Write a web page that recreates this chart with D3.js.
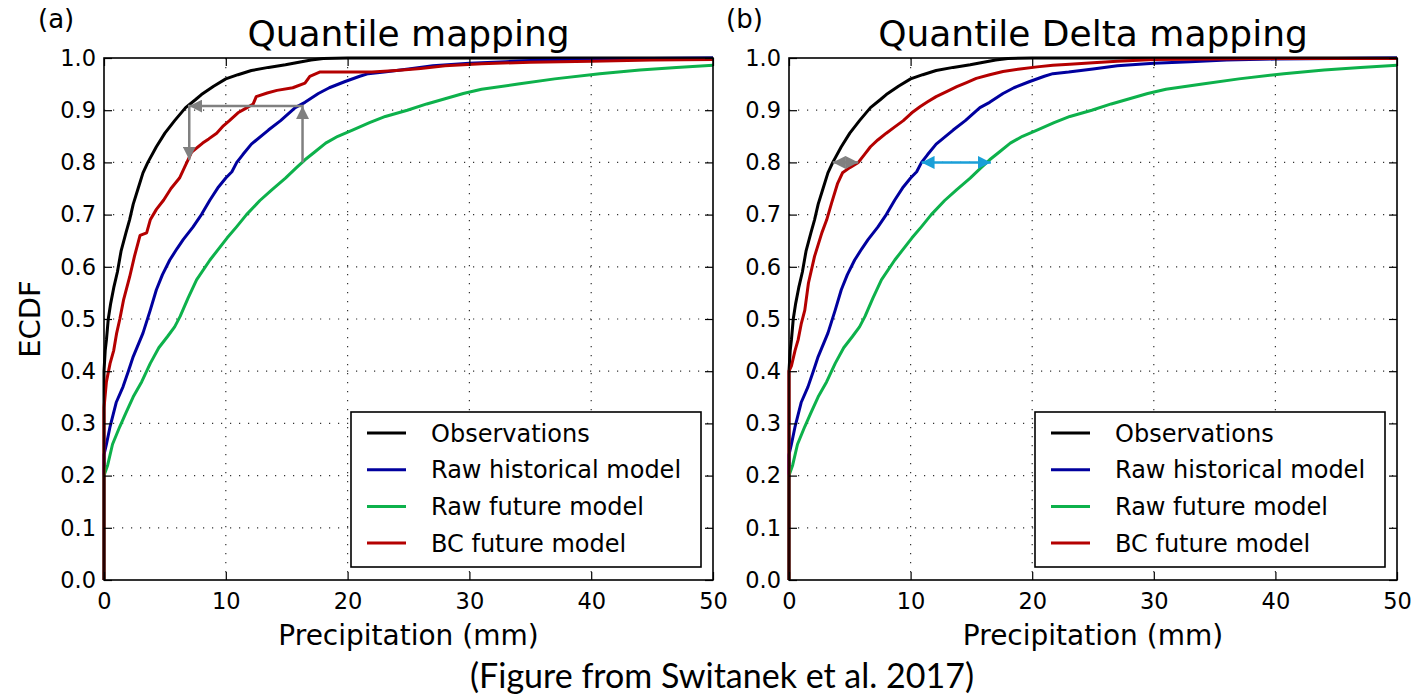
<!DOCTYPE html>
<meta charset="utf-8">
<style>
body { margin: 0; background: #fff; }
svg text { font-family: "DejaVu Sans", sans-serif; fill: #000; }
.grid line { stroke: #333; stroke-width: 1.2; stroke-dasharray: 1.2,7.8; }
.axis path { display: none; }
.axis line { stroke: #000; stroke-width: 1.2; }
.axis text { font-size: 22.5px; }
.curve { fill: none; stroke-width: 3px; stroke-linejoin: round; }
.frame { fill: none; stroke: #000; stroke-width: 1.6; }
</style>
<body>
<script src="https://d3js.org/d3.v7.min.js"></script>
<script>

// ---- data (precipitation in mm, ECDF) ----
var xTicks = [0, 10, 20, 30, 40, 50];
var yTicks = [0, 0.1, 0.2, 0.3, 0.4, 0.5, 0.6, 0.7, 0.8, 0.9, 1.0];
var seriesNames = ["Observations", "Raw historical model", "Raw future model", "BC future model"];

var observations = [[0,0],[0,0.40],[0.1,0.44],[0.2,0.46],[0.35,0.5],[0.55,0.53],[0.8,0.56],[1.1,0.59],
  [1.4,0.63],[1.8,0.665],[2.1,0.69],[2.4,0.72],[2.8,0.75],[3.2,0.78],[3.6,0.80],[4.3,0.83],[5.0,0.856],
  [5.8,0.88],[6.7,0.905],[7.5,0.92],[8.0,0.93],[9.0,0.946],[10.0,0.96],[11.0,0.968],[12.1,0.976],
  [13.5,0.982],[14.9,0.987],[16.0,0.992],[17.0,0.996],[18,0.999],[20,1.0],[50,1.0]];

var rawHistorical = [[0,0],[0,0.24],[0.2,0.26],[0.5,0.294],[1.0,0.34],[1.56,0.37],[2.0,0.40],[2.4,0.428],
  [3.2,0.473],[3.8,0.517],[4.3,0.556],[4.8,0.585],[5.4,0.613],[6.0,0.635],[6.5,0.652],[7.3,0.676],[8.0,0.70],
  [8.7,0.728],[9.4,0.753],[10.0,0.77],[10.5,0.782],[10.9,0.80],[11.4,0.815],[12.1,0.835],[13.5,0.862],
  [14.5,0.88],[15.7,0.905],[16.5,0.915],[17.6,0.932],[18.5,0.943],[19.8,0.955],[21.0,0.965],[21.7,0.97],
  [23,0.973],[25,0.979],[27,0.985],[30,0.99],[33,0.993],[36,0.996],[40,0.998],[45,0.999],[50,1.0]];

var rawFuture = [[0,0],[0,0.2],[0.3,0.22],[0.7,0.26],[1.3,0.294],[1.8,0.32],[2.4,0.351],[3.1,0.38],
  [3.8,0.415],[4.5,0.445],[5.2,0.466],[5.8,0.485],[6.25,0.505],[6.9,0.54],[7.6,0.575],[8.7,0.613],
  [10.1,0.655],[10.9,0.677],[11.7,0.70],[12.8,0.727],[13.8,0.748],[14.9,0.77],[15.8,0.79],[16.5,0.805],
  [17.3,0.82],[18.2,0.837],[19.2,0.85],[20.4,0.862],[21.8,0.876],[23.1,0.888],[24.9,0.90],[26.5,0.912],
  [28,0.922],[29.5,0.932],[31,0.94],[34,0.95],[37,0.96],[40.7,0.97],[44,0.977],[47,0.982],[50,0.986]];

// bias corrected future, quantile mapping (a)
var bcFutureQM = [[0,0],[0,0.33],[0.2,0.38],[0.5,0.415],[0.8,0.44],[1.04,0.473],[1.3,0.50],[1.6,0.536],
  [2.1,0.58],[2.5,0.62],[2.96,0.66],[3.5,0.665],[3.8,0.69],[4.3,0.71],[4.9,0.728],[5.5,0.75],[6.2,0.77],
  [6.6,0.79],[6.9,0.805],[7.2,0.82],[8.1,0.837],[8.6,0.845],[9.25,0.856],[9.8,0.87],[10.3,0.88],
  [11.0,0.895],[11.6,0.903],[12.25,0.912],[12.5,0.926],[13.4,0.933],[14.2,0.938],[15.5,0.943],
  [16.5,0.952],[16.9,0.965],[17.7,0.973],[22,0.973],[24,0.976],[26,0.98],[28,0.985],[31,0.989],
  [35,0.992],[40,0.994],[45,0.996],[50,0.997]];

// bias corrected future, quantile delta mapping (b)
var bcFutureQDM = [[0,0],[0,0.40],[0.2,0.41],[0.5,0.44],[0.75,0.46],[1.0,0.49],[1.3,0.517],[1.6,0.569],
  [2.1,0.62],[2.7,0.665],[3.1,0.69],[3.5,0.722],[4.0,0.76],[4.4,0.78],[5.0,0.79],[5.7,0.80],[6.2,0.815],
  [6.7,0.83],[7.3,0.843],[8.0,0.856],[8.7,0.868],[9.4,0.88],[10.1,0.895],[10.8,0.907],[11.4,0.916],
  [12.1,0.926],[13.0,0.936],[13.8,0.945],[14.6,0.953],[15.4,0.961],[16.5,0.968],[17.6,0.974],[19,0.979],
  [20.4,0.983],[21.7,0.986],[23.1,0.988],[25,0.991],[27,0.994],[30,0.997],[35,0.998],[40,0.999],[50,0.999]];

// annotation arrows (data coords)
var qmArrowPath = [[16.3,0.80],[16.3,0.908],[7.0,0.908],[7.0,0.805]];
var qdmArrowObs = [[3.6,0.80],[5.7,0.80]];
var qdmArrowModel = [[10.9,0.80],[16.6,0.80]];

var colors = ["#000000", "#00009e", "#0db14b", "#b40000"];

var svg = d3.select("body").append("svg")
    .attr("width", 1415)
    .attr("height", 695);

var defs = svg.append("defs");
function marker(id, color) {
  defs.append("marker")
      .attr("id", id)
      .attr("viewBox", "0 0 10 10")
      .attr("refX", 10).attr("refY", 5)
      .attr("markerUnits", "userSpaceOnUse")
      .attr("markerWidth", 13).attr("markerHeight", 13)
      .attr("orient", "auto-start-reverse")
    .append("path")
      .attr("d", "M0,0 L10,5 L0,10 Z")
      .attr("fill", color);
}
marker("headGray", "#808080");
marker("headBlue", "#1a9fd8");

function drawPanel(p) {
  var width = p.width, height = 522;
  var g = svg.append("g").attr("transform", "translate(" + p.left + ",58)");

  var x = d3.scaleLinear().domain([0, 50]).range([0, width]);
  var y = d3.scaleLinear().domain([0, 1]).range([height, 0]);

  // grid
  g.append("g").attr("class", "grid")
    .selectAll("line").data(yTicks.slice(1, -1)).enter().append("line")
      .attr("x1", 0).attr("x2", width)
      .attr("y1", function(d) { return y(d); })
      .attr("y2", function(d) { return y(d); });
  g.append("g").attr("class", "grid")
    .selectAll("line").data(xTicks.slice(1, -1)).enter().append("line")
      .attr("y1", 0).attr("y2", height)
      .attr("x1", function(d) { return x(d); })
      .attr("x2", function(d) { return x(d); });

  // curves
  var line = d3.line()
      .x(function(d) { return x(d[0]); })
      .y(function(d) { return y(d[1]); });
  var series = [observations, rawHistorical, rawFuture, p.bc];
  series.forEach(function(s, i) {
    g.append("path").attr("class", "curve")
      .attr("d", line(s))
      .attr("stroke", colors[i]);
  });

  // arrows
  p.arrows.forEach(function(a) {
    g.append("path")
      .attr("d", line(a.pts))
      .attr("fill", "none")
      .attr("stroke", a.color)
      .attr("stroke-width", 2.5)
      .attr("marker-end", "url(#" + a.head + ")")
      .attr("marker-start", a.both ? "url(#" + a.head + ")" : null);
    if (a.mid) {
      a.mid.forEach(function(m) {
        // extra heads at corners of the path
        var pts = a.pts.slice(m - 1, m + 1);
        g.append("path")
          .attr("d", line(pts))
          .attr("fill", "none").attr("stroke", "none")
          .attr("marker-end", "url(#" + a.head + ")");
      });
    }
  });

  // axes with inward ticks on all sides
  g.append("g").attr("class", "axis")
      .attr("transform", "translate(0," + height + ")")
      .call(d3.axisBottom(x).tickValues(xTicks).tickSizeInner(-8).tickSizeOuter(0).tickPadding(13));
  g.append("g").attr("class", "axis")
      .call(d3.axisLeft(y).tickValues(yTicks).tickFormat(d3.format(".1f"))
            .tickSizeInner(-8).tickSizeOuter(0).tickPadding(8));
  g.append("g").attr("class", "axis")
      .call(d3.axisTop(x).tickValues(xTicks).tickFormat("").tickSizeInner(-8).tickSizeOuter(0));
  g.append("g").attr("class", "axis")
      .attr("transform", "translate(" + width + ",0)")
      .call(d3.axisRight(y).tickValues(yTicks).tickFormat("").tickSizeInner(-8).tickSizeOuter(0));

  g.append("rect").attr("class", "frame")
      .attr("width", width).attr("height", height);

  // legend
  var lg = g.append("g").attr("transform", "translate(" + (width - 362) + "," + (height - 168) + ")");
  lg.append("rect")
      .attr("width", 350).attr("height", 155)
      .attr("fill", "#fff").attr("stroke", "#000").attr("stroke-width", 1.6);
  seriesNames.forEach(function(name, i) {
    var yy = 21 + i * 36.7;
    lg.append("line")
        .attr("x1", 16).attr("x2", 55)
        .attr("y1", yy).attr("y2", yy)
        .attr("stroke", colors[i]).attr("stroke-width", 3);
    lg.append("text")
        .attr("x", 80).attr("y", yy)
        .attr("dy", "0.36em")
        .style("font-size", "24px")
        .text(name);
  });

  // titles
  g.append("text")
      .attr("x", width / 2).attr("y", -12)
      .attr("text-anchor", "middle")
      .style("font-size", "36px")
      .text(p.title);
  svg.append("text")
      .attr("x", p.tagX).attr("y", 28)
      .style("font-size", "26px")
      .text(p.tag);
  g.append("text")
      .attr("x", width / 2).attr("y", height + 65)
      .attr("text-anchor", "middle")
      .style("font-size", "28px")
      .text("Precipitation (mm)");
}

drawPanel({
  left: 104, width: 609, title: "Quantile mapping", tag: "(a)", tagX: 38,
  bc: bcFutureQM,
  arrows: [{pts: qmArrowPath, color: "#808080", head: "headGray", both: false, mid: [1, 2]}]
});
drawPanel({
  left: 789, width: 608, title: "Quantile Delta mapping", tag: "(b)", tagX: 726,
  bc: bcFutureQDM,
  arrows: [
    {pts: qdmArrowObs, color: "#808080", head: "headGray", both: true},
    {pts: qdmArrowModel, color: "#1a9fd8", head: "headBlue", both: true}
  ]
});

svg.append("text")
    .attr("transform", "translate(40,319)rotate(-90)")
    .attr("text-anchor", "middle")
    .style("font-size", "29px")
    .text("ECDF");

svg.append("text")
    .attr("x", 722).attr("y", 688)
    .attr("text-anchor", "middle")
    .style("font-family", "Lato, 'Open Sans', sans-serif")
    .style("font-size", "34px")
    .text("(Figure from Switanek et al. 2017)");

</script>
</body>
